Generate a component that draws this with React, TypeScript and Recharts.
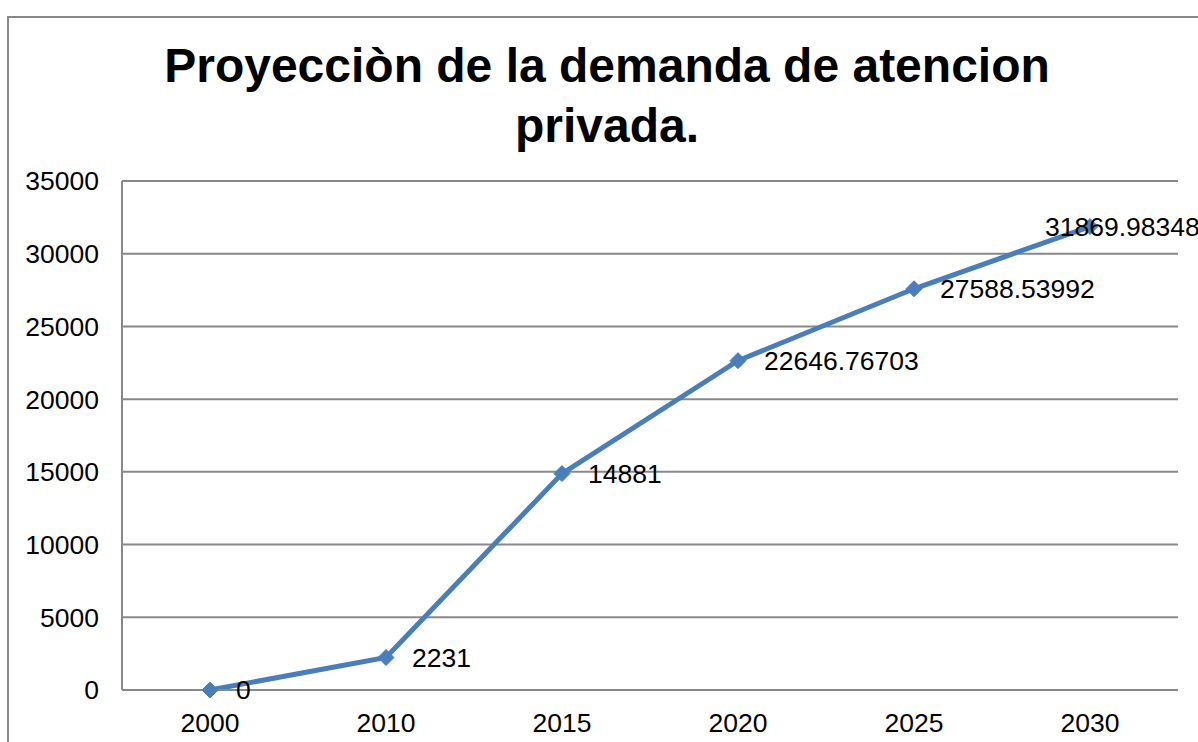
import React from "react";
import { LineChart, Line, XAxis, YAxis, CartesianGrid } from "recharts";

const categories = ["2000", "2010", "2015", "2020", "2025", "2030"];
const demanda = [0, 2231, 14881, 22646.76703, 27588.53992, 31869.98348];
const labels = ["0", "2231", "14881", "22646.76703", "27588.53992", "31869.98348"];
const yTicks = [0, 5000, 10000, 15000, 20000, 25000, 30000, 35000];

const data = categories.map((c, i) => ({ year: c, value: demanda[i], label: labels[i] }));

const FONT = "Arial, 'Liberation Sans', Helvetica, sans-serif";
const BLUE = "#4A7EBB";
const GRAY = "#888888";
const FS = 26.5;

const Diamond = (props: any) => {
  const { cx, cy } = props;
  if (cx == null || cy == null) return null;
  const r = 8;
  return (
    <polygon
      points={`${cx},${cy - r} ${cx + r},${cy} ${cx},${cy + r} ${cx - r},${cy}`}
      fill={BLUE}
      stroke={BLUE}
      strokeWidth={1}
    />
  );
};

const DataLabel = (props: any) => {
  const { x, y, index } = props;
  const last = index === data.length - 1;
  const dx = last ? -45 : 26;
  return (
    <text
      x={x + dx}
      y={y}
      dy="0.355em"
      fontSize={FS}
      fontFamily={FONT}
      fill="#000"
      textAnchor="start"
    >
      {data[index].label}
    </text>
  );
};

export default function App() {
  return (
    <div
      style={{
        position: "absolute",
        left: 0,
        top: 0,
        width: 1198,
        height: 742,
        overflow: "hidden",
        background: "#fff",
      }}
    >
      <div
        style={{
          position: "absolute",
          left: 7,
          top: 16,
          width: 1400,
          height: 900,
          border: `2px solid ${GRAY}`,
          boxSizing: "border-box",
        }}
      />
      <div
        style={{
          position: "absolute",
          left: 0,
          top: 36,
          width: 1214,
          textAlign: "center",
          fontFamily: FONT,
          fontWeight: "bold",
          fontSize: 48,
          lineHeight: "60px",
          color: "#000",
        }}
      >
        Proyecciòn de la demanda de atencion
        <br />
        privada.
      </div>
      <div style={{ position: "absolute", left: 0, top: 0 }}>
        <LineChart
          width={1198}
          height={742}
          data={data}
          margin={{ top: 181, right: 20, bottom: 22, left: 0 }}
        >
          <CartesianGrid vertical={false} stroke={GRAY} strokeWidth={2} />
          <XAxis
            dataKey="year"
            height={30}
            padding={{ left: 88, right: 88 }}
            tickLine={false}
            tickSize={0}
            tickMargin={23}
            axisLine={{ stroke: GRAY, strokeWidth: 2 }}
            tick={{ fontSize: FS, fontFamily: FONT, fill: "#000" }}
            interval={0}
          />
          <YAxis
            width={122}
            domain={[0, 35000]}
            ticks={yTicks}
            tickLine={false}
            tickSize={0}
            tickMargin={23}
            axisLine={{ stroke: GRAY, strokeWidth: 2 }}
            tick={{ fontSize: FS, fontFamily: FONT, fill: "#000" }}
            interval={0}
          />
          <Line
            type="linear"
            dataKey="value"
            stroke={BLUE}
            strokeWidth={5}
            dot={<Diamond />}
            activeDot={false}
            isAnimationActive={false}
            label={<DataLabel />}
          />
        </LineChart>
      </div>
    </div>
  );
}
